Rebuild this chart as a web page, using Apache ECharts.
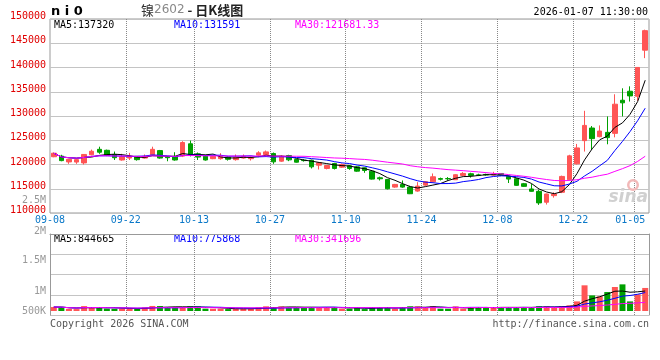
<!DOCTYPE html>
<html><head><meta charset="utf-8">
<script src="https://cdn.jsdelivr.net/npm/echarts@6/dist/echarts.min.js"></script>
<style>html,body{margin:0;padding:0;background:#fff}#c{width:660px;height:360px}</style>
</head><body><div id="c"></div>
<script>
// ---- data ----
const dates = ['09-09','09-10','09-11','09-12','09-15','09-16','09-17','09-18','09-19','09-22','09-23','09-24','09-25','09-26','09-29','09-30',
'10-09','10-10','10-13','10-14','10-15','10-16','10-17','10-20','10-21','10-22','10-23','10-24','10-27','10-28','10-29','10-30','10-31',
'11-03','11-04','11-05','11-06','11-07','11-10','11-11','11-12','11-13','11-14','11-17','11-18','11-19','11-20','11-21','11-24','11-25','11-26','11-27','11-28',
'12-01','12-02','12-03','12-04','12-05','12-08','12-09','12-10','12-11','12-12','12-15','12-16','12-17','12-18','12-19','12-22','12-23','12-24','12-25','12-26','12-29','12-30','12-31',
'01-05','01-06','01-07'];
const opens  = [121600,121730,120530,120500,120330,122000,123130,122930,122070,120930,121330,121670,121330,122000,122870,121600,121670,121730,124270,122200,121730,121200,121200,121530,121000,121330,121200,121920,122050,122260,120690,121850,121030,120900,120890,119860,119180,120210,119450,119730,119520,119320,118630,117260,116920,115340,115890,115340,114520,115750,116440,117100,117100,116860,117750,118090,117850,117950,117850,118150,117540,117070,116040,114950,114470,112220,113580,114270,116860,120140,124920,127520,125740,126630,126420,133250,135100,134070,143570];
const closes = [122330,120800,121070,121000,122070,122730,122530,121870,121400,121600,121670,121000,121670,123130,121330,121400,120930,124530,122070,121530,120930,121670,121600,121070,121470,121670,121400,122400,122600,120550,121710,120960,120480,120800,119520,120340,119800,119180,120000,119180,118630,118770,116990,117060,115000,115890,115340,113970,115550,116440,117470,116950,117050,117890,118160,117750,117800,117850,117900,117800,117000,115700,115490,114470,112080,113920,113920,117540,121780,123420,128060,125330,126900,125540,132430,132710,134140,140010,147600];
const lows   = [121500,120670,120130,120130,120000,121900,122200,121730,120930,120800,120930,120800,121200,121900,121200,120670,120800,121530,121670,120930,120800,121100,121000,120800,120800,121200,120820,121600,121920,120140,120550,120690,120400,120600,119180,118970,119000,118970,119300,118900,118500,118290,116900,116700,114860,115200,115200,113900,114380,115600,116300,116700,116700,116800,117700,117300,117600,117700,117700,117600,116180,115600,115400,114400,111670,111740,113170,114100,116700,120000,122670,123010,125600,124170,125600,129910,132980,133120,141930];
const highs  = [122400,122000,121100,121070,122100,123070,123670,123070,122670,122200,122400,121700,122070,123670,123000,121700,122530,124800,124930,122470,122000,121800,122330,121700,122070,122070,121650,122740,122880,122470,121920,122000,121100,121100,121000,120400,119900,120340,120200,119900,119700,119400,118800,117500,117000,116000,116710,115600,116370,116600,118150,117300,117400,118000,118430,118300,118100,118100,118500,118200,117700,117200,116200,115970,114810,114000,114270,117700,122000,124240,131070,127930,128060,129910,134480,135710,136120,140010,147800];
const volumes = [165000,160000,90000,80000,205000,150000,155000,100000,95000,98000,96000,97000,150000,210000,205000,150000,152000,155000,195000,190000,98000,96000,97000,80000,97000,95000,98000,150000,195000,150000,190000,152000,150000,153000,150000,155000,152000,150000,96000,98000,150000,80000,152000,150000,153000,97000,150000,195000,192000,150000,195000,97000,96000,193000,98000,150000,152000,150000,153000,150000,152000,150000,153000,150000,195000,192000,150000,195000,235000,400000,1070000,650000,610000,790000,1000000,1110000,400000,695000,960000];
const xTickLabels = ['09-08','09-22','10-13','10-27','11-10','11-24','12-08','12-22','01-05'];
const priceMaLabels = ['MA5:137320','MA10:131591','MA30:121681.33'];
const volMaLabels = ['MA5:844665','MA10:775868','MA30:341696'];
const volAxisLabels = ['2.5M','2M','1.5M','1M','500K'];
const titleParts = ['镍','2602',' - 日K线图'];
const symbolText = 'n i 0';
const stampText = '2026-01-07 11:30:00';

// ---- styling ----
const UP = '#ff5555', DOWN = '#00a000';
const MA_COLORS = ['#000000', '#0000ff', '#ff00ff'];
const MONO = '"DejaVu Sans Mono", monospace';
const vGridLine = () => ({color: '#888888', type: [1, 1], width: 1});
const hGridLine = () => ({color: '#c4c4c4', type: 'solid', width: 1});
const BORDER = '#999999';

function movingAvg(arr, n) {
  return arr.map((_, i) => {
    const s = Math.max(0, i - n + 1);
    let sum = 0;
    for (let j = s; j <= i; j++) sum += arr[j];
    return +(sum / (i - s + 1)).toFixed(2);
  });
}
const boundaries = [xTickLabels[0]].concat(dates);
const labelSet = new Set(xTickLabels);
const isTick = (i, v) => labelSet.has(v);
const isLine = (i, v) => labelSet.has(v) && i > 0;

const volMin = -166667, volMax = 3208333;

const chart = echarts.init(document.getElementById('c'), null, {renderer: 'canvas'});

const maSeries = (data, color, xi, yi) => ({
  type: 'line', xAxisIndex: xi, yAxisIndex: yi, data, symbol: 'none', showSymbol: false,
  lineStyle: {color, width: 1}, itemStyle: {color}, z: 5, silent: true
});
const txt = (x, y, text, fill, align) => ({type: 'text', x, y,
  style: {text, font: '10px ' + MONO, fill, align: align || 'left', verticalAlign: 'middle'}});

const option = {
  animation: false,
  backgroundColor: '#ffffff',
  grid: [
    {left: 50, right: 11, top: 19, height: 194, show: true, borderColor: BORDER, borderWidth: 1},
    {left: 50, right: 11, top: 234, height: 81}
  ],
  xAxis: [
    {type: 'category', gridIndex: 0, data: dates, boundaryGap: true, show: false},
    {type: 'category', gridIndex: 0, data: boundaries, boundaryGap: false, position: 'bottom',
      axisLine: {show: false, onZero: false}, axisTick: {show: false},
      axisLabel: {interval: isTick, showMinLabel: true, showMaxLabel: true, margin: 2,
        color: '#0a78c8', fontFamily: MONO, fontSize: 10,
        formatter: v => v === xTickLabels[xTickLabels.length - 1] ? '{e|' + v + '}' : v,
        rich: {e: {padding: [0, 7, 0, 0], color: '#0a78c8', fontFamily: MONO, fontSize: 10}}},
      splitLine: {show: true, interval: isLine, lineStyle: vGridLine()}},
    {type: 'category', gridIndex: 1, data: dates, boundaryGap: true, show: false},
    {type: 'category', gridIndex: 1, data: boundaries, boundaryGap: false, position: 'top',
      axisLine: {show: true, onZero: false, lineStyle: {color: BORDER}}, axisTick: {show: false},
      axisLabel: {show: false},
      splitLine: {show: true, interval: isLine, lineStyle: vGridLine()}}
  ],
  yAxis: [
    {type: 'value', gridIndex: 0, min: 110000, max: 150000, interval: 5000,
      axisLine: {show: false, onZero: false}, axisTick: {show: false},
      axisLabel: {color: '#e00000', fontFamily: MONO, fontSize: 10, margin: 4,
        formatter: v => '{p|' + v + '}',
        rich: {p: {padding: [0, 0, 5, 0], color: '#e00000', fontFamily: MONO, fontSize: 10}}},
      splitLine: {show: true, lineStyle: hGridLine()}},
    {type: 'value', gridIndex: 1, min: volMin, max: volMax, show: false, splitLine: {show: false}},
    {type: 'value', gridIndex: 1, min: 0, max: 4, interval: 1, position: 'left',
      axisLine: {show: true, onZero: false, lineStyle: {color: BORDER}}, axisTick: {show: false},
      axisLabel: {show: false}, splitLine: {show: true, lineStyle: hGridLine()}},
    {type: 'value', gridIndex: 1, min: 0, max: 4, interval: 1, position: 'right',
      axisLine: {show: true, onZero: false, lineStyle: {color: BORDER}}, axisTick: {show: false},
      axisLabel: {show: false}, splitLine: {show: false}}
  ],
  series: [
    {type: 'candlestick', xAxisIndex: 0, yAxisIndex: 0, barWidth: 5,
      data: dates.map((d, i) => [opens[i], closes[i], lows[i], highs[i]]),
      itemStyle: {color: UP, color0: DOWN, borderColor: UP, borderColor0: DOWN, borderWidth: 1}, z: 3},
    maSeries(movingAvg(closes, 5), MA_COLORS[0], 0, 0),
    maSeries(movingAvg(closes, 10), MA_COLORS[1], 0, 0),
    maSeries(movingAvg(closes, 30), MA_COLORS[2], 0, 0),
    {type: 'bar', xAxisIndex: 2, yAxisIndex: 1, barWidth: 6,
      data: volumes.map((v, i) => ({value: v, itemStyle: {color: closes[i] >= opens[i] ? UP : DOWN}})), z: 3},
    maSeries(movingAvg(volumes, 5), MA_COLORS[0], 2, 1),
    maSeries(movingAvg(volumes, 10), MA_COLORS[1], 2, 1),
    maSeries(movingAvg(volumes, 30), MA_COLORS[2], 2, 1)
  ],
  graphic: [
    {type: 'text', x: 51, y: 12, style: {text: symbolText, font: 'bold 13px "DejaVu Sans"', fill: '#000', verticalAlign: 'middle'}},
    {type: 'text', x: 141, y: 10, style: {
      text: '{a|' + titleParts[0] + '}{b|' + titleParts[1] + '}{c|' + titleParts[2] + '}',
      verticalAlign: 'middle',
      rich: {
        a: {font: '13px "Noto Sans CJK SC"', fill: '#333'},
        b: {font: '12px "DejaVu Sans"', fill: '#888'},
        c: {font: 'bold 13px "Noto Sans CJK SC"', fill: '#222'}
      }}},
    txt(648, 12, stampText, '#000', 'right'),
    txt(54, 25, priceMaLabels[0], MA_COLORS[0]),
    txt(174, 25, priceMaLabels[1], MA_COLORS[1]),
    txt(295, 25, priceMaLabels[2], MA_COLORS[2]),
    txt(54, 239, volMaLabels[0], MA_COLORS[0]),
    txt(174, 239, volMaLabels[1], MA_COLORS[1]),
    txt(295, 239, volMaLabels[2], MA_COLORS[2]),
    txt(46, 200, volAxisLabels[0], '#999', 'right'),
    txt(46, 231, volAxisLabels[1], '#999', 'right'),
    txt(46, 260, volAxisLabels[2], '#999', 'right'),
    txt(46, 291, volAxisLabels[3], '#999', 'right'),
    txt(46, 311, volAxisLabels[4], '#999', 'right'),
    txt(50, 324, 'Copyright 2026 SINA.COM', '#555'),
    txt(649, 324, 'http://finance.sina.com.cn', '#555', 'right'),
    {type: 'ring', shape: {cx: 633, cy: 185, r: 6, r0: 3.5}, style: {fill: '#f2b8b8'}, z: 1},
    {type: 'text', x: 648, y: 198, style: {text: 'sina', font: 'italic bold 17px "DejaVu Sans"', fill: '#d0d0d0', align: 'right', verticalAlign: 'middle'}, z: 1}
  ]
};
chart.setOption(option);
</script>
</body></html>
